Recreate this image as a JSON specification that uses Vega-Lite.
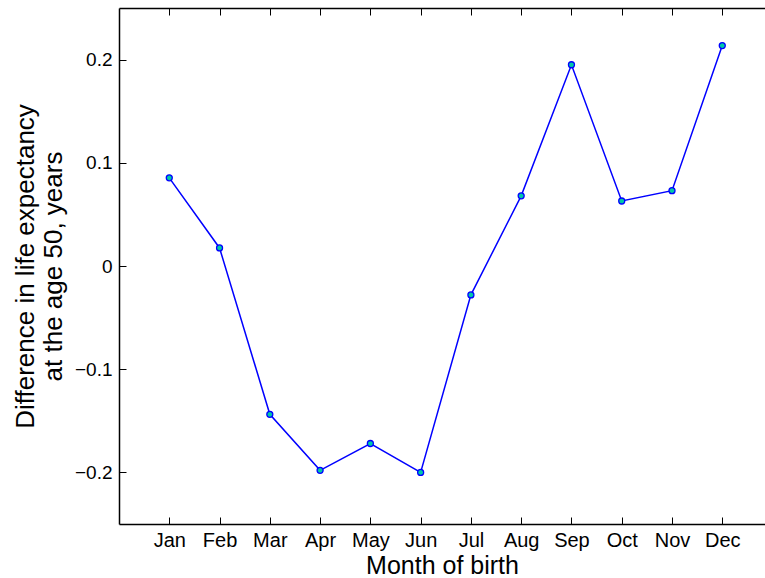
{
  "$schema": "https://vega.github.io/schema/vega-lite/v6.json",
  "width": 646,
  "height": 516,
  "autosize": {"type": "none"},
  "padding": {"left": 119, "top": 8, "right": 0, "bottom": 54},
  "background": "white",
  "config": {
    "view": {"stroke": null},
    "font": "Liberation Sans",
    "axis": {
      "domainColor": "black",
      "domainWidth": 1.5,
      "tickColor": "black",
      "tickSize": -7,
      "tickWidth": 1,
      "labelColor": "black",
      "titleColor": "black",
      "labelFont": "Liberation Sans",
      "titleFont": "Liberation Sans",
      "labelFontSize": 19,
      "titleFontSize": 26,
      "titleFontWeight": "normal",
      "grid": false
    }
  },
  "data": {
    "values": [
      {"m": 1, "month": "Jan", "diff": 0.0854},
      {"m": 2, "month": "Feb", "diff": 0.0175},
      {"m": 3, "month": "Mar", "diff": -0.1437},
      {"m": 4, "month": "Apr", "diff": -0.198},
      {"m": 5, "month": "May", "diff": -0.172},
      {"m": 6, "month": "Jun", "diff": -0.2},
      {"m": 7, "month": "Jul", "diff": -0.028},
      {"m": 8, "month": "Aug", "diff": 0.068},
      {"m": 9, "month": "Sep", "diff": 0.195},
      {"m": 10, "month": "Oct", "diff": 0.063},
      {"m": 11, "month": "Nov", "diff": 0.073},
      {"m": 12, "month": "Dec", "diff": 0.2136}
    ]
  },
  "layer": [
    {
      "mark": {"type": "line", "color": "#0000ff", "strokeWidth": 1.5},
      "encoding": {
        "x": {
          "field": "m", "type": "quantitative",
          "scale": {"domain": [0, 12.85], "nice": false, "zero": false},
          "axis": {
            "title": "Month of birth",
            "values": [1,2,3,4,5,6,7,8,9,10,11,12],
            "labelExpr": "['','Jan','Feb','Mar','Apr','May','Jun','Jul','Aug','Sep','Oct','Nov','Dec'][datum.value]",
            "labelFontSize": 20,
            "labelPadding": 13,
            "titlePadding": 3,
            "titleFontSize": 25,
            "labelFlush": false,
            "labelOverlap": false
          }
        },
        "y": {
          "field": "diff", "type": "quantitative",
          "scale": {"domain": [-0.25, 0.25], "nice": false, "zero": false},
          "axis": {
            "title": ["Difference in life expectancy", "at the age 50, years"],
            "values": [-0.2, -0.1, 0, 0.1, 0.2],
            "format": ".1~f",
            "labelFontSize": 19,
            "labelPadding": 14,
            "titlePadding": 8,
            "titleLineHeight": 28,
            "labelFlush": false,
            "labelOverlap": false
          }
        }
      }
    },
    {
      "mark": {"type": "point", "filled": true, "fill": "#00c8a8", "stroke": "#0000ff", "strokeWidth": 1.3, "size": 36, "opacity": 1},
      "encoding": {
        "x": {
          "field": "m", "type": "quantitative",
          "axis": {
            "orient": "top", "title": null, "labels": false,
            "values": [1,2,3,4,5,6,7,8,9,10,11,12]
          }
        },
        "y": {"field": "diff", "type": "quantitative"}
      }
    }
  ],
  "resolve": {"axis": {"x": "independent"}}
}
